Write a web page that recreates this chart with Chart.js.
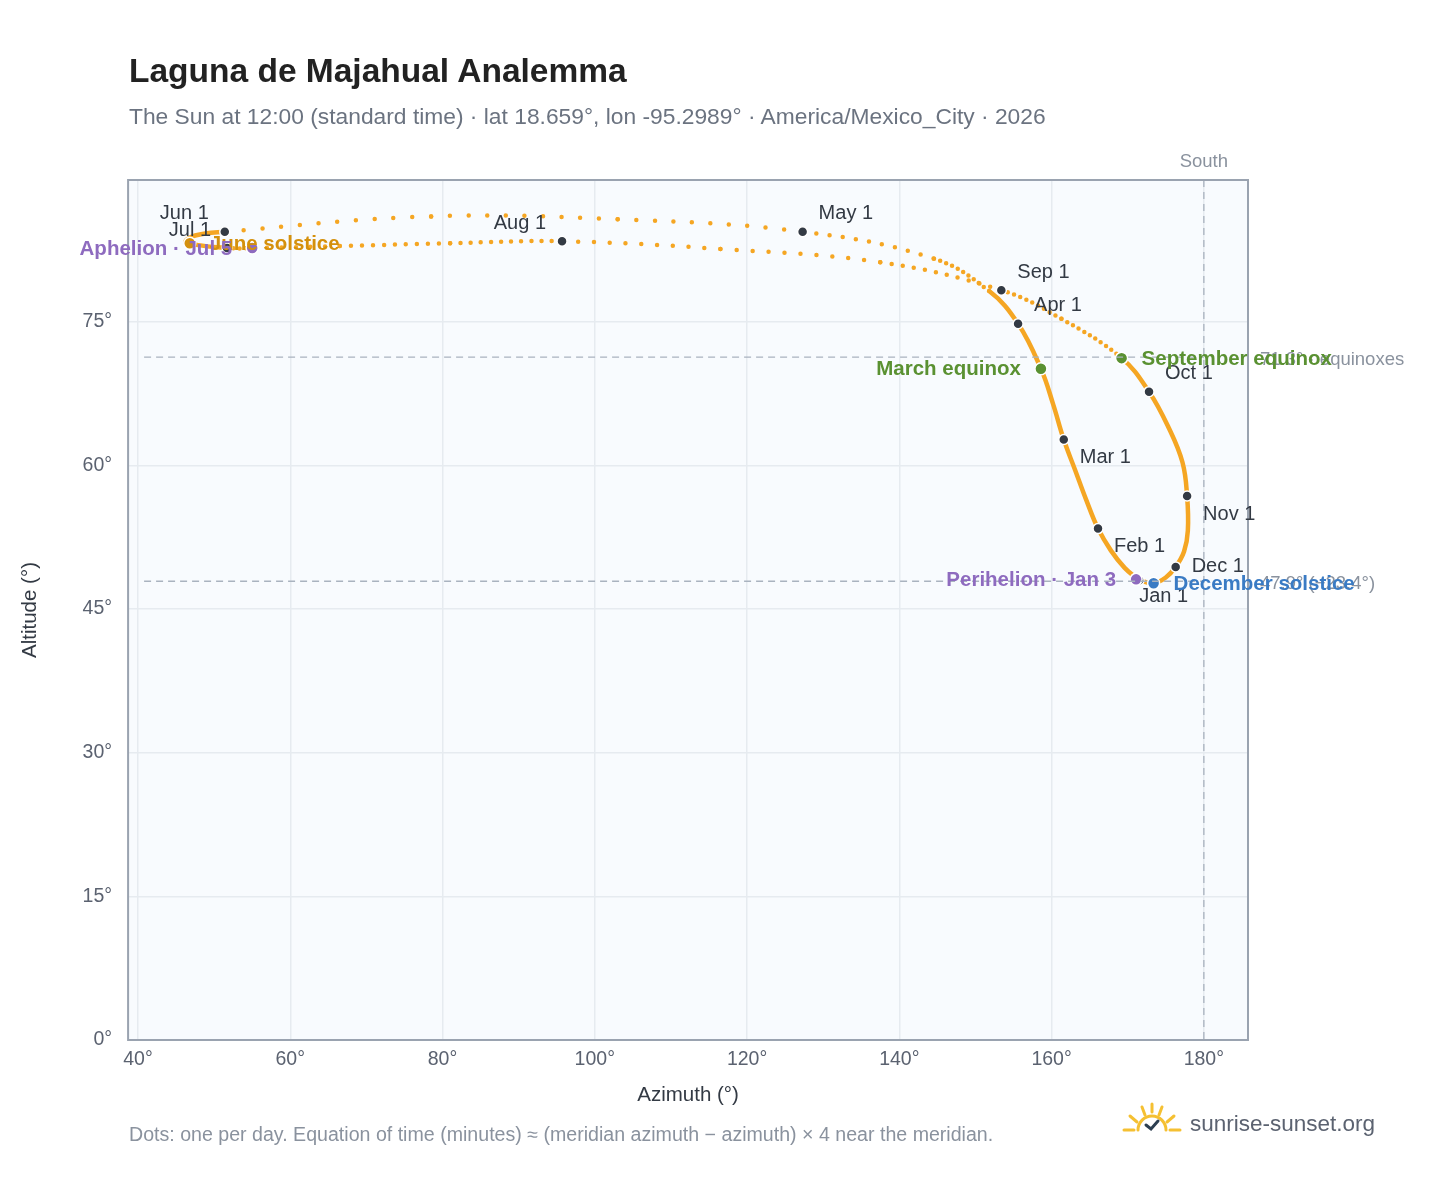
<!DOCTYPE html>
<html><head><meta charset="utf-8">
<script src="https://cdn.jsdelivr.net/npm/chart.js@4/dist/chart.umd.min.js"></script>
<style>
body{margin:0;background:#fff;font-family:"Liberation Sans",Arial,sans-serif;}
#wrap{position:relative;width:1448px;height:1188px;}
#t{position:absolute;left:129px;top:52px;font-size:33.5px;font-weight:bold;color:#222;}
#s{position:absolute;left:129px;top:103px;font-size:22.8px;color:#6b7380;}
#f{position:absolute;left:129px;top:1123px;font-size:19.6px;color:#8a929e;}
#logo{position:absolute;left:1120px;top:1102px;}
#lt{position:absolute;left:1190px;top:1111px;font-size:22.5px;color:#5b6270;}
canvas{position:absolute;left:0;top:0;}
</style></head><body>
<div id="wrap">
<canvas id="c" width="1448" height="1188"></canvas>
<div id="t">Laguna de Majahual Analemma</div>
<div id="s">The Sun at 12:00 (standard time) · lat 18.659°, lon -95.2989° · America/Mexico_City · 2026</div>
<div id="f">Dots: one per day. Equation of time (minutes) ≈ (meridian azimuth − azimuth) × 4 near the meridian.</div>
<svg id="logo" width="64" height="36" viewBox="0 0 64 36">
<g stroke="#f5c032" stroke-width="3" stroke-linecap="round" fill="none">
<line x1="4" y1="28" x2="14" y2="28"/><line x1="50" y1="28" x2="60" y2="28"/>
<line x1="10" y1="14" x2="17" y2="20"/><line x1="54" y1="14" x2="47" y2="20"/>
<line x1="22" y1="5" x2="25" y2="13"/><line x1="42" y1="5" x2="39" y2="13"/>
<line x1="32" y1="2" x2="32" y2="10"/>
<path d="M18 28 A14 14 0 0 1 46 28"/></g>
<path d="M26 23 L31 27 L38 19" stroke="#2c3e50" stroke-width="3" fill="none" stroke-linecap="round"/>
</svg>
<div id="lt">sunrise-sunset.org</div>
</div>
<script>
const dayNum = [1,11,21,32,42,52,60,70,79,91,101,111,121,131,141,152,162,172,182,186,192,202,213,223,233,244,254,265,274,284,294,305,315,325,335,345,355,365];
const azimuth = [171.5,169.6,167.8,166.1,164.6,163.1,161.6,160.2,158.6,155.6,151.8,144.5,127.3,103.0,78.5,51.4,47.5,46.3,51.7,55.0,66.5,81.0,95.7,116.5,137.5,153.4,161.3,169.2,172.8,175.4,177.2,177.8,177.9,177.4,176.3,175.0,173.4,171.6];
const altitude = [48.0,49.3,51.1,53.4,56.3,59.5,62.7,66.4,70.1,74.8,78.2,81.6,84.4,85.7,86.0,84.4,84.0,83.3,82.7,82.7,82.9,83.2,83.4,82.6,81.2,78.3,75.3,71.2,67.7,63.9,60.3,56.8,53.2,51.0,49.4,48.3,47.7,48.0];
const monthLabels = ["Jan 1","Feb 1","Mar 1","Apr 1","May 1","Jun 1","Jul 1","Aug 1","Sep 1","Oct 1","Nov 1","Dec 1"];
const monthAz = [171.5,166.1,161.6,155.6,127.3,51.4,51.7,95.7,153.4,172.8,177.8,176.3];
const monthAlt = [48.0,53.4,62.7,74.8,84.4,84.4,82.7,83.4,78.3,67.7,56.8,49.4];
const monthOff = [[0,16],[16,18],[16,18],[16,-18],[16,-18],[-16,-18],[-16,-18],[-16,-18],[16,-18],[16,-18],[16,18],[16,0]];
const eventNames = ["March equinox","September equinox","June solstice","December solstice","Perihelion · Jan 3","Aphelion · Jul 5"];
const eventAz = [158.6,169.2,46.8,173.4,171.1,55.0];
const eventAlt = [70.1,71.2,83.2,47.7,48.1,82.7];
const eventColor = ["#5a9132","#5a9132","#d4900c","#3a7bc4","#8e6bbf","#8e6bbf"];
const eventSide = ["left","right","right","right","left","left"];
const refAlt = [71.3,47.9];
const refLabels = ["71.3° · equinoxes","47.9° (−23.4°)"];
const xTicks=[40,60,80,100,120,140,160,180], yTicks=[0,15,30,45,60,75];

const overlay={id:'ov',
 beforeDraw(ch){const {ctx,chartArea:a}=ch;ctx.save();
  ctx.fillStyle='#f8fbfe';ctx.fillRect(a.left,a.top,a.width,a.height);
  ctx.restore();},
 afterDraw(ch){const {ctx,chartArea:a,scales:{x,y}}=ch;ctx.save();
  ctx.setLineDash([7,5]);ctx.strokeStyle='#a9b3bf';ctx.lineWidth=1.3;
  refAlt.forEach(v=>{const py=y.getPixelForValue(v);ctx.beginPath();ctx.moveTo(a.left+16,py);ctx.lineTo(x.getPixelForValue(180),py);ctx.stroke();});
  const sx=x.getPixelForValue(180);ctx.beginPath();ctx.moveTo(sx,a.top);ctx.lineTo(sx,a.bottom);ctx.stroke();
  ctx.setLineDash([]);
  ctx.strokeStyle='#9aa3b0';ctx.lineWidth=2;ctx.strokeRect(a.left,a.top,a.width,a.height);
  ctx.font='18.5px "Liberation Sans",Arial';ctx.fillStyle='#8a929e';ctx.textBaseline='middle';ctx.textAlign='left';
  refAlt.forEach((v,i)=>ctx.fillText(refLabels[i],a.right+12,y.getPixelForValue(v)+3));
  ctx.textAlign='center';ctx.fillText('South',sx,a.top-18);
  ctx.font='20px "Liberation Sans",Arial';ctx.fillStyle='#333a44';
  monthLabels.forEach((l,i)=>{const px=x.getPixelForValue(monthAz[i]),py=y.getPixelForValue(monthAlt[i]);const [dx,dy]=monthOff[i];
   ctx.textAlign=dx<0?'right':'left';ctx.fillText(l,px+dx,py+dy);});
  ctx.font='bold 20.5px "Liberation Sans",Arial';
  eventNames.forEach((l,i)=>{const px=x.getPixelForValue(eventAz[i]),py=y.getPixelForValue(eventAlt[i]);ctx.fillStyle=eventColor[i];
   if(eventSide[i]=='left'){ctx.textAlign='right';ctx.fillText(l,px-20,py+1);}else{ctx.textAlign='left';ctx.fillText(l,px+20,py+1);}});
  ctx.restore();}};

new Chart(document.getElementById('c'),{type:'scatter',
 data:{datasets:[
  {data:eventAz.map((v,i)=>({x:v,y:eventAlt[i]})),pointRadius:6,pointBackgroundColor:eventColor,pointBorderColor:'#fff',pointBorderWidth:1.5,order:0},
  {data:monthAz.map((v,i)=>({x:v,y:monthAlt[i]})),pointRadius:5,pointBackgroundColor:'#333a44',pointBorderColor:'#fff',pointBorderWidth:1.5,order:1},
  {data:azimuth.map((v,i)=>({x:v,y:altitude[i]})),showLine:true,pointRadius:0,borderColor:'#f5a623',borderWidth:4.5,borderCapStyle:'round',tension:0.4,order:2,
   segment:{borderDash:c=>{const d=Math.hypot(c.p1.x-c.p0.x,c.p1.y-c.p0.y)/(dayNum[c.p1DataIndex]-dayNum[c.p0DataIndex]);return d<5.5?[]:[0,d];}}}
 ]},
 options:{responsive:false,animation:false,
  layout:{padding:{left:14,right:200,top:180,bottom:76}},
  plugins:{legend:{display:false},tooltip:{enabled:false}},
  scales:{
   x:{min:38.7,max:185.8,afterBuildTicks:s=>{s.ticks=xTicks.map(v=>({value:v}));},
    ticks:{callback:v=>v+'°',color:'#5b6270',font:{size:19.5},padding:8},
    grid:{color:'#e6ebf0',lineWidth:1.5,drawTicks:false},border:{display:false},
    title:{display:true,text:'Azimuth (°)',color:'#333a44',font:{size:20.5},padding:{top:4}}},
   y:{min:0,max:89.8,afterBuildTicks:s=>{s.ticks=yTicks.map(v=>({value:v}));},
    ticks:{callback:v=>v+'°',color:'#5b6270',font:{size:19.5},padding:16},
    grid:{color:'#e6ebf0',lineWidth:1.5,drawTicks:false},border:{display:false},
    title:{display:true,text:'Altitude (°)',color:'#333a44',font:{size:20.5},padding:{bottom:24}}}
  }},
 plugins:[overlay]});
</script></body></html>
